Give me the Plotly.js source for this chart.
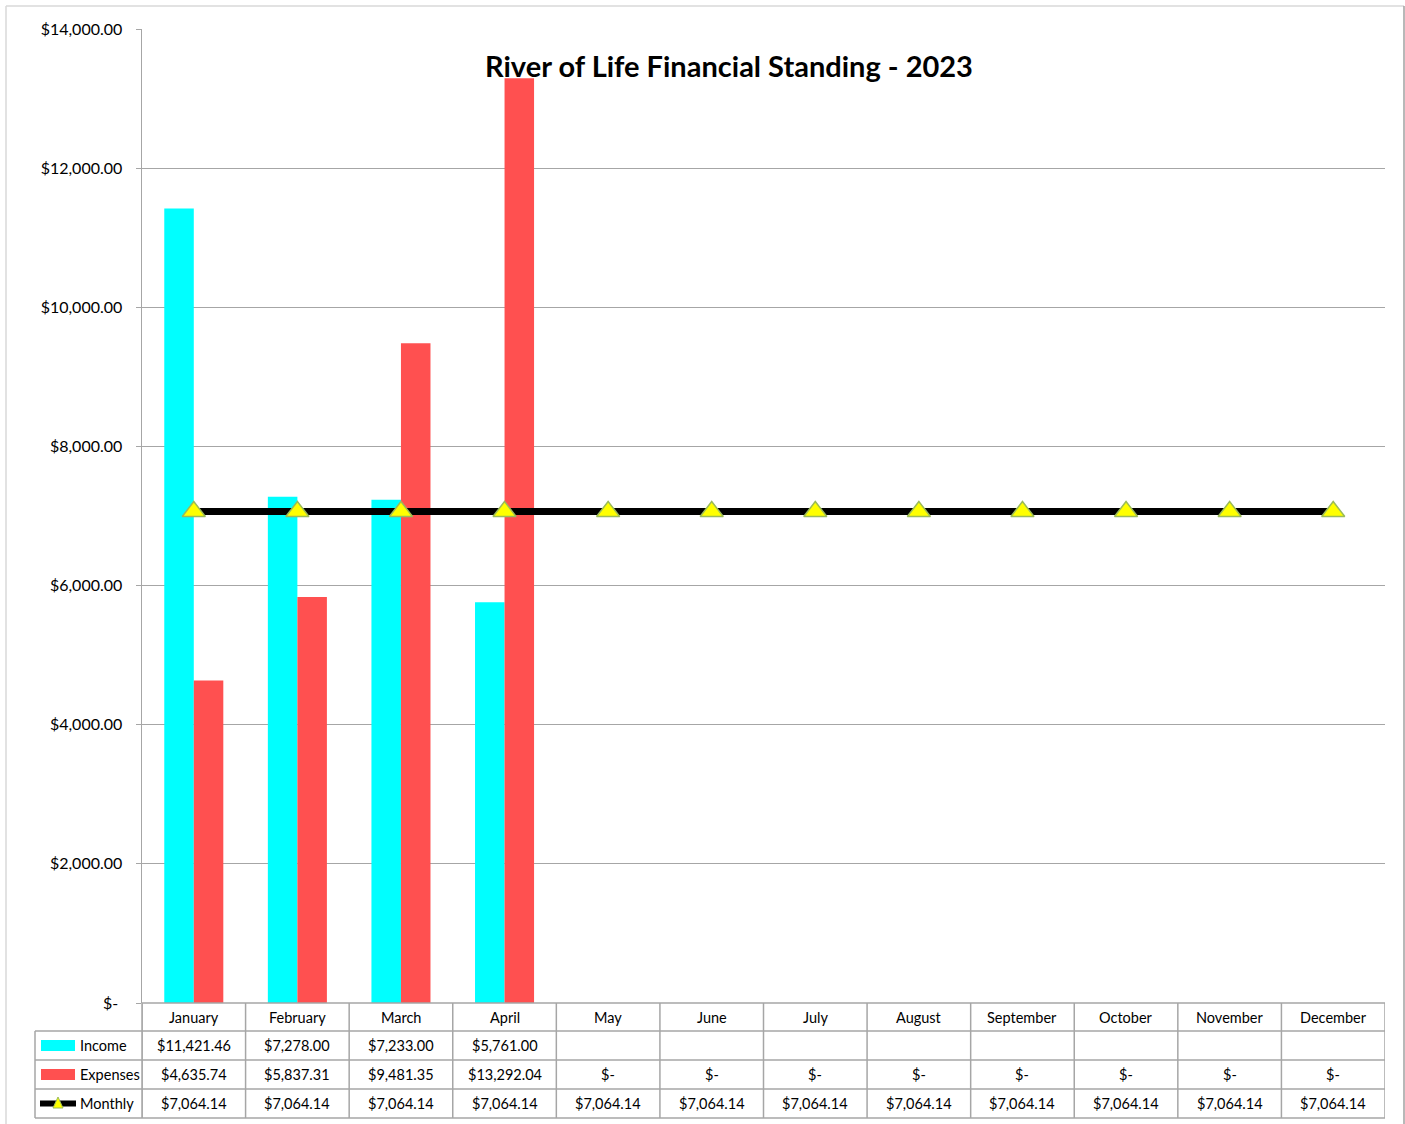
<!DOCTYPE html>
<html>
<head>
<meta charset="utf-8">
<script src="https://cdn.plot.ly/plotly-3.0.1.min.js"></script>
<style>html,body{margin:0;padding:0;background:#fff;}#chart{width:1405px;height:1124px;}</style>
</head>
<body>
<div id="chart"></div>
<script>
var months = ["January","February","March","April","May","June","July","August","September","October","November","December"];
var income = [11421.46, 7278.00, 7233.00, 5761.00, null, null, null, null, null, null, null, null];
var expenses = [4635.74, 5837.31, 9481.35, 13292.04, 0, 0, 0, 0, 0, 0, 0, 0];
var monthly = [7064.14, 7064.14, 7064.14, 7064.14, 7064.14, 7064.14, 7064.14, 7064.14, 7064.14, 7064.14, 7064.14, 7064.14];
var yTickVals = [0, 2000, 4000, 6000, 8000, 10000, 12000, 14000];
var yTickText = ["$-\u00a0", "$2,000.00", "$4,000.00", "$6,000.00", "$8,000.00", "$10,000.00", "$12,000.00", "$14,000.00"];
var seriesNames = ["Income", "Expenses", "Monthly"];
var titleText = "River of Life Financial Standing - 2023";

function money(v) {
  if (v === null || v === undefined) return "";
  if (v === 0) return "$-";
  return "$" + v.toLocaleString("en-US", {minimumFractionDigits: 2, maximumFractionDigits: 2});
}

var W = 1405, H = 1124, L = 142, R = 20, T = 29, B = 121;
var PW = W - L - R, PH = H - T - B;
function px(p) { return (p - L) / PW; }
function py(p) { return (H - B - p) / PH; }

var FONT = "Lato, 'Open Sans', sans-serif";
var GRID = "#a6a6a6";
var CYAN = "#00ffff", RED = "#ff5050";

var traces = [
  {type: "bar", name: seriesNames[0], x: months, y: income, marker: {color: CYAN}, hoverinfo: "y"},
  {type: "bar", name: seriesNames[1], x: months, y: expenses, marker: {color: RED}, hoverinfo: "y"},
  {type: "scatter", mode: "lines+markers", name: seriesNames[2], x: months, y: monthly,
   line: {color: "#000000", width: 7},
   marker: {symbol: "triangle-up", size: 20, color: "#ffff00", line: {color: "#9bbb59", width: 1.5}}}
];

var shapes = [];
var annotations = [];
var rowY = [py(1003), py(1031), py(1060), py(1089), py(1118)];
var rowMid = [py(1017), py(1045.5), py(1074.5), py(1103.5)];
var lineStyle = {color: GRID, width: 1.5};

// horizontal table lines
shapes.push({type: "line", xref: "paper", yref: "paper", x0: 0, x1: 1, y0: rowY[0], y1: rowY[0], line: lineStyle});
for (var r = 1; r < rowY.length; r++) {
  shapes.push({type: "line", xref: "paper", yref: "paper", x0: px(35), x1: 1, y0: rowY[r], y1: rowY[r], line: lineStyle});
}
// vertical table lines at category boundaries
for (var i = 0; i <= months.length; i++) {
  shapes.push({type: "line", xref: "x", yref: "paper", x0: i - 0.5, x1: i - 0.5, y0: rowY[0], y1: rowY[4], line: lineStyle});
}
// legend column left edge
shapes.push({type: "line", xref: "paper", yref: "paper", x0: px(35), x1: px(35), y0: rowY[1], y1: rowY[4], line: lineStyle});
shapes.push({type: "line", xref: "paper", yref: "paper", x0: 0, x1: 0, y0: rowY[0], y1: rowY[4], line: lineStyle});

// legend keys
shapes.push({type: "rect", xref: "paper", yref: "paper", x0: px(41), x1: px(75), y0: py(1051), y1: py(1040), fillcolor: CYAN, line: {width: 0}});
shapes.push({type: "rect", xref: "paper", yref: "paper", x0: px(41), x1: px(75), y0: py(1080), y1: py(1069), fillcolor: RED, line: {width: 0}});
shapes.push({type: "line", xref: "paper", yref: "paper", x0: px(40), x1: px(76), y0: rowMid[3], y1: rowMid[3], line: {color: "#000", width: 6}});
shapes.push({type: "path", xref: "paper", yref: "paper",
  path: "M" + px(53) + "," + py(1108) + " L" + px(63) + "," + py(1108) + " L" + px(58) + "," + py(1097) + " Z",
  fillcolor: "#ffff00", line: {color: "#9bbb59", width: 1}});

var tf = {family: FONT, size: 14.5, color: "#000"};
for (var s = 0; s < 3; s++) {
  annotations.push({xref: "paper", yref: "paper", x: px(78), y: rowMid[s + 1], text: seriesNames[s],
    showarrow: false, xanchor: "left", yanchor: "middle", font: tf});
}
var rows = [income, expenses, monthly];
for (var j = 0; j < months.length; j++) {
  annotations.push({xref: "x", yref: "paper", x: months[j], y: rowMid[0], text: months[j], showarrow: false, yanchor: "middle", font: tf});
  for (var k = 0; k < 3; k++) {
    var t = money(rows[k][j]);
    if (t) annotations.push({xref: "x", yref: "paper", x: months[j], y: rowMid[k + 1], text: t, showarrow: false, yanchor: "middle", font: tf});
  }
}

// outer chart frame
shapes.push({type: "line", xref: "paper", yref: "paper", x0: px(6), x1: px(1404), y0: py(6), y1: py(6), line: {color: "#d9d9d9", width: 1.5}});
shapes.push({type: "line", xref: "paper", yref: "paper", x0: px(6), x1: px(6), y0: py(6), y1: py(1124), line: {color: "#d9d9d9", width: 1.5}});
shapes.push({type: "line", xref: "paper", yref: "paper", x0: px(1404), x1: px(1404), y0: py(6), y1: py(1124), line: {color: "#a0a0a0", width: 1.5}});

var layout = {
  width: W, height: H,
  margin: {l: L, r: R, t: T, b: B, pad: 0},
  paper_bgcolor: "#ffffff", plot_bgcolor: "#ffffff",
  showlegend: false,
  barmode: "group", bargap: 0.43, bargroupgap: 0,
  font: {family: FONT, size: 15, color: "#000"},
  title: {text: "<b>" + titleText + "</b>", x: 729 / W, xanchor: "center", y: 1 - 67 / H, yanchor: "middle",
          font: {family: FONT, size: 29, color: "#000"}},
  xaxis: {type: "category", range: [-0.5, 11.5], showticklabels: false, showgrid: false, zeroline: false,
          showline: false, ticks: "", fixedrange: true},
  yaxis: {range: [0, 14000], tickvals: yTickVals, ticktext: yTickText, showgrid: true, gridcolor: GRID, gridwidth: 1,
          zeroline: false, showline: true, linecolor: GRID, linewidth: 1.5, ticks: "outside", ticklen: 5, tickcolor: GRID,
          tickfont: {family: FONT, size: 16, color: "#000"}, ticklabelstandoff: 10, fixedrange: true},
  shapes: shapes,
  annotations: annotations
};

Plotly.newPlot("chart", traces, layout, {displayModeBar: false, staticPlot: true});
</script>
</body>
</html>
